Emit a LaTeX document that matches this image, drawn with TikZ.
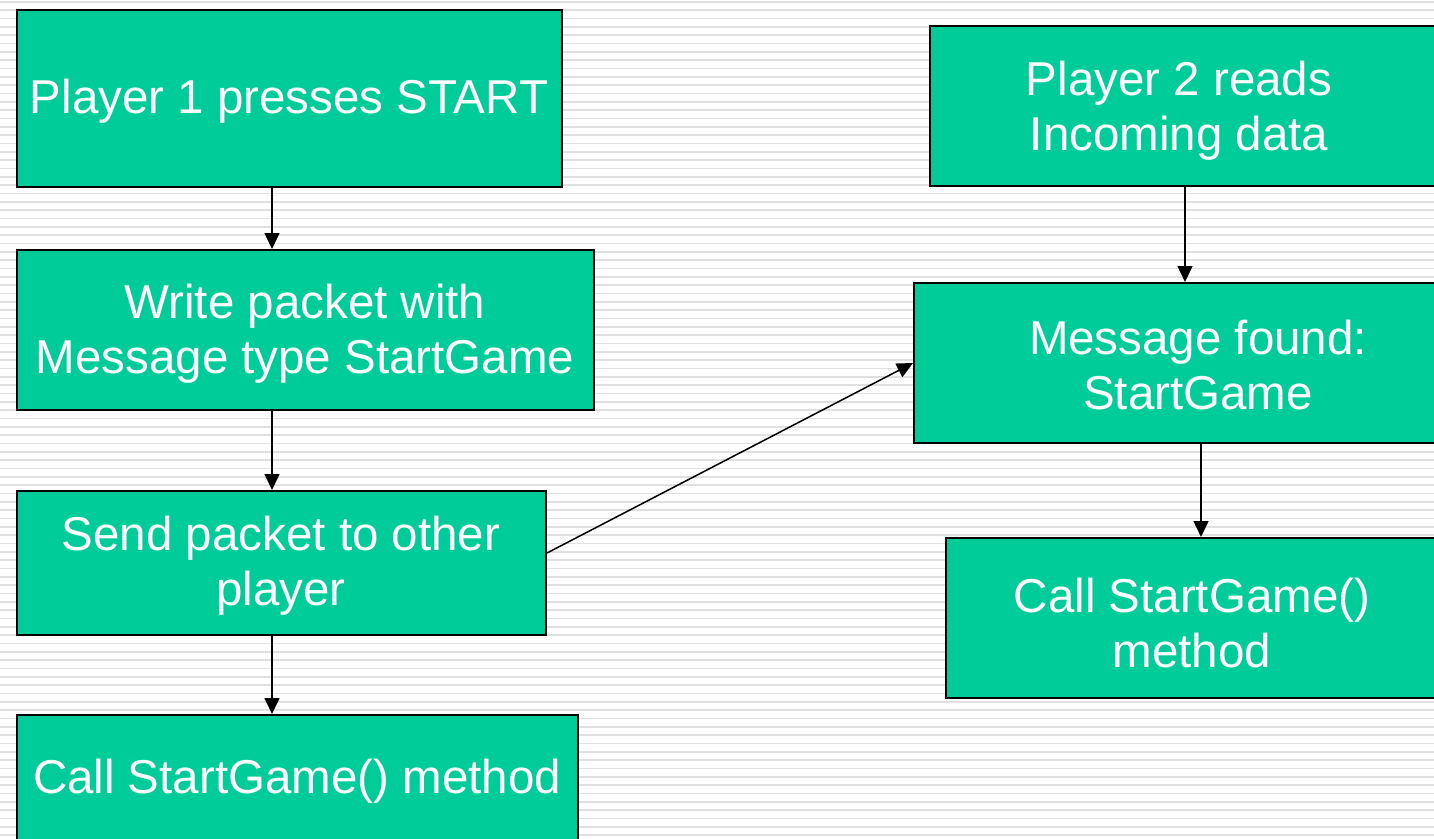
\documentclass[tikz,border=0pt]{standalone}
\usepackage{fontspec}
\setmainfont{Liberation Sans}
\usetikzlibrary{arrows.meta,calc}
\definecolor{boxgreen}{RGB}{0,204,153}
\definecolor{stripegray}{RGB}{224,224,224}
\begin{document}
\begin{tikzpicture}[x=1pt,y=-1pt,
  box/.style={draw=black,line width=2pt,fill=boxgreen,inner sep=0pt,anchor=north west},
  lbl/.style={text=white,font=\fontsize{47.5}{55}\selectfont,align=center,inner sep=0pt},
  conn/.style={draw=black,line width=1.5pt,-{Triangle[length=16pt,width=15pt]}},
  stripe/.style={stripegray,line width=1.8pt}]
\useasboundingbox (0,0) rectangle (1434,838);
\begin{scope}
\clip (0,0) rectangle (1434,838);
\fill[white] (0,0) rectangle (1434,838);
\foreach \i in {0,...,100} \draw[stripe] (0,{1.8+8.333*\i}) -- (1434,{1.8+8.333*\i});
% left column
\node[box,minimum width=545pt,minimum height=177pt] (b1) at (16,9) {};
\node[box,minimum width=577pt,minimum height=160pt] (b2) at (16,249) {};
\node[box,minimum width=529pt,minimum height=144pt] (b3) at (16,490) {};
\node[box,minimum width=561pt,minimum height=140pt] (b4) at (16,714) {};
% right column
\node[box,minimum width=530pt,minimum height=160pt] (b5) at (929,25) {};
\node[box,minimum width=550pt,minimum height=160pt] (b6) at (913,282) {};
\node[box,minimum width=510pt,minimum height=160pt] (b7) at (945,537) {};
% labels
\node[lbl] (t1) at (289,101) {Player 1 presses START};
\node[lbl] (t2) at (305,334) {Write packet with\\Message type StartGame};
\node[lbl] (t3) at (281,566) {Send packet to other\\player};
\node[lbl] (t4) at (297,781) {Call StartGame() method};
\node[lbl] (t5) at (1179,111) {Player 2 reads\\Incoming data};
\node[lbl] (t6) at (1198,365) {Message found:\\StartGame};
\node[lbl] (t7) at (1192,623) {Call StartGame()\\method};
% connectors
\coordinate (ax) at (272,0);
\coordinate (bx) at (1185,0);
\coordinate (cx) at (1201,0);
\draw[conn] (b1.south -| ax) -- (b2.north -| ax);
\draw[conn] (b2.south -| ax) -- (b3.north -| ax);
\draw[conn] (b3.south -| ax) -- (b4.north -| ax);
\draw[conn] (b5.south -| bx) -- (b6.north -| bx);
\draw[conn] (b6.south -| cx) -- (b7.north -| cx);
\draw[conn] ([yshift=10pt]b3.east) -- (b6.west);
\end{scope}
\end{tikzpicture}
\end{document}
